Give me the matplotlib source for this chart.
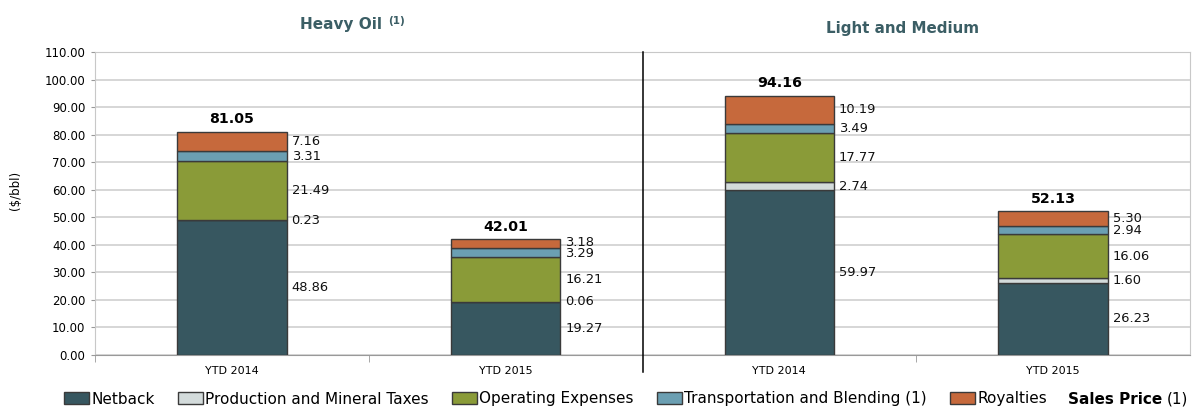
import numpy as np
import matplotlib
matplotlib.use("Agg")
import matplotlib.pyplot as plt
from matplotlib.patches import Patch

# =========================
# DATA
# =========================

categories = ["YTD 2014", "YTD 2015", "YTD 2014", "YTD 2015"]

netback = [48.86, 19.27, 59.97, 26.23]
production_taxes = [0.23, 0.06, 2.74, 1.60]
operating = [21.49, 16.21, 17.77, 16.06]
transportation = [3.31, 3.29, 3.49, 2.94]
royalties = [7.16, 3.18, 10.19, 5.30]
sales_price = [81.05, 42.01, 94.16, 52.13]

series_names = [
    "Netback",
    "Production and Mineral Taxes",
    "Operating Expenses",
    "Transportation and Blending (1)",
    "Royalties",
]
series_values = [netback, production_taxes, operating, transportation, royalties]
colors = ["#375760", "#D3DBDB", "#8A9B38", "#6B9FB2", "#C6693C"]

# =========================
# FIGURE
# =========================

plt.rcParams["font.family"] = "DejaVu Sans"

W, H = 1194, 407
fig = plt.figure(figsize=(W / 100, H / 100), dpi=100)
ax = fig.add_axes([95 / W, 1 - 355 / H, 1095 / W, 303 / H])

x = np.arange(len(categories))
bar_width = 0.40
bottom = np.zeros(len(categories))
label_pos = []   # (y, text) per bar

for name, vals, col in zip(series_names, series_values, colors):
    vals = np.array(vals)
    ax.bar(x, vals, bar_width, bottom=bottom, color=col,
           edgecolor="#3a3a3a", linewidth=1.0, zorder=3)
    label_pos.append([(bottom[i] + vals[i] / 2, f"{vals[i]:.2f}") for i in range(len(x))])
    bottom += vals

# value labels right of each bar, spread a bit when too close
min_gap = 3.9
for i in range(len(x)):
    ys = [label_pos[s][i][0] for s in range(len(series_names))]
    for s in range(1, len(ys)):
        gap = ys[s] - ys[s - 1]
        if gap < min_gap:
            shift = (min_gap - gap) / 2
            ys[s - 1] -= shift
            ys[s] += shift
    for s in range(len(ys)):
        ax.text(x[i] + bar_width / 2 + 0.018, ys[s], label_pos[s][i][1],
                ha="left", va="center", fontsize=9.4, color="#111111", zorder=4)

for i in range(len(x)):
    ax.text(x[i], sales_price[i] + 2.0, f"{sales_price[i]:.2f}",
            ha="center", va="bottom", fontsize=10.2, fontweight="bold")

ax.set_xlim(-0.5, 3.5)
ax.set_ylim(0, 110)
ax.set_yticks(np.arange(0, 111, 10))
ax.set_yticklabels([f"{v:.2f}" for v in np.arange(0, 111, 10)], fontsize=8.5)
ax.set_xticks(x)
ax.set_xticklabels(categories, fontsize=8)
ax.set_xticks([-0.5, 0.5, 2.5], minor=True)
ax.tick_params(axis="x", which="major", length=0, pad=8)
ax.tick_params(axis="x", which="minor", length=5, color="#999999")
ax.tick_params(axis="y", length=3, color="#999999", pad=4)

ax.yaxis.grid(True, color="#d0d0d0", linewidth=1.2, zorder=0)
ax.set_axisbelow(True)
for side in ["left", "right", "top"]:
    ax.spines[side].set_color("#c8c8c8")
ax.spines["bottom"].set_color("#999999")

fig.text(15 / W, 1 - 190 / H, r"(\$/bbl)", rotation=90, fontsize=8.5,
         ha="center", va="center")

# divider between the two groups
ax.plot([1.5, 1.5], [1.0, -0.056], transform=ax.get_xaxis_transform(),
        color="black", linewidth=1.1, clip_on=False, zorder=5)

# group titles
title_color = "#3B5E65"
fig.text(341 / W, 1 - 25 / H, "Heavy Oil", ha="center", va="center",
         fontsize=11, fontweight="bold", color=title_color)
fig.text(388 / W, 1 - 21 / H, "(1)", ha="left", va="center",
         fontsize=7.5, fontweight="bold", color=title_color)
fig.text(903 / W, 1 - 29 / H, "Light and Medium", ha="center", va="center",
         fontsize=10.9, fontweight="bold", color=title_color)

# legend
handles = [Patch(facecolor=c, edgecolor="#3a3a3a", linewidth=1.0) for c in colors]
leg = fig.legend(handles, series_names, loc="center left",
                 bbox_to_anchor=(64 / W, 1 - 399 / H), ncol=5,
                 frameon=False, fontsize=11, handlelength=1.65,
                 handleheight=0.8, handletextpad=0.15, columnspacing=1.5,
                 borderaxespad=0, borderpad=0)

fig.canvas.draw()
renderer = fig.canvas.get_renderer()
bb = leg.get_window_extent()
sp = fig.text((bb.x1 + 21) / W, 1 - 399 / H, "Sales Price",
              ha="left", va="center", fontsize=11, fontweight="bold")
sp_bb = sp.get_window_extent(renderer)
fig.text((sp_bb.x1 + 4) / W, 1 - 399 / H, "(1)",
         ha="left", va="center", fontsize=11)

fig.savefig("out.png", dpi=100)
